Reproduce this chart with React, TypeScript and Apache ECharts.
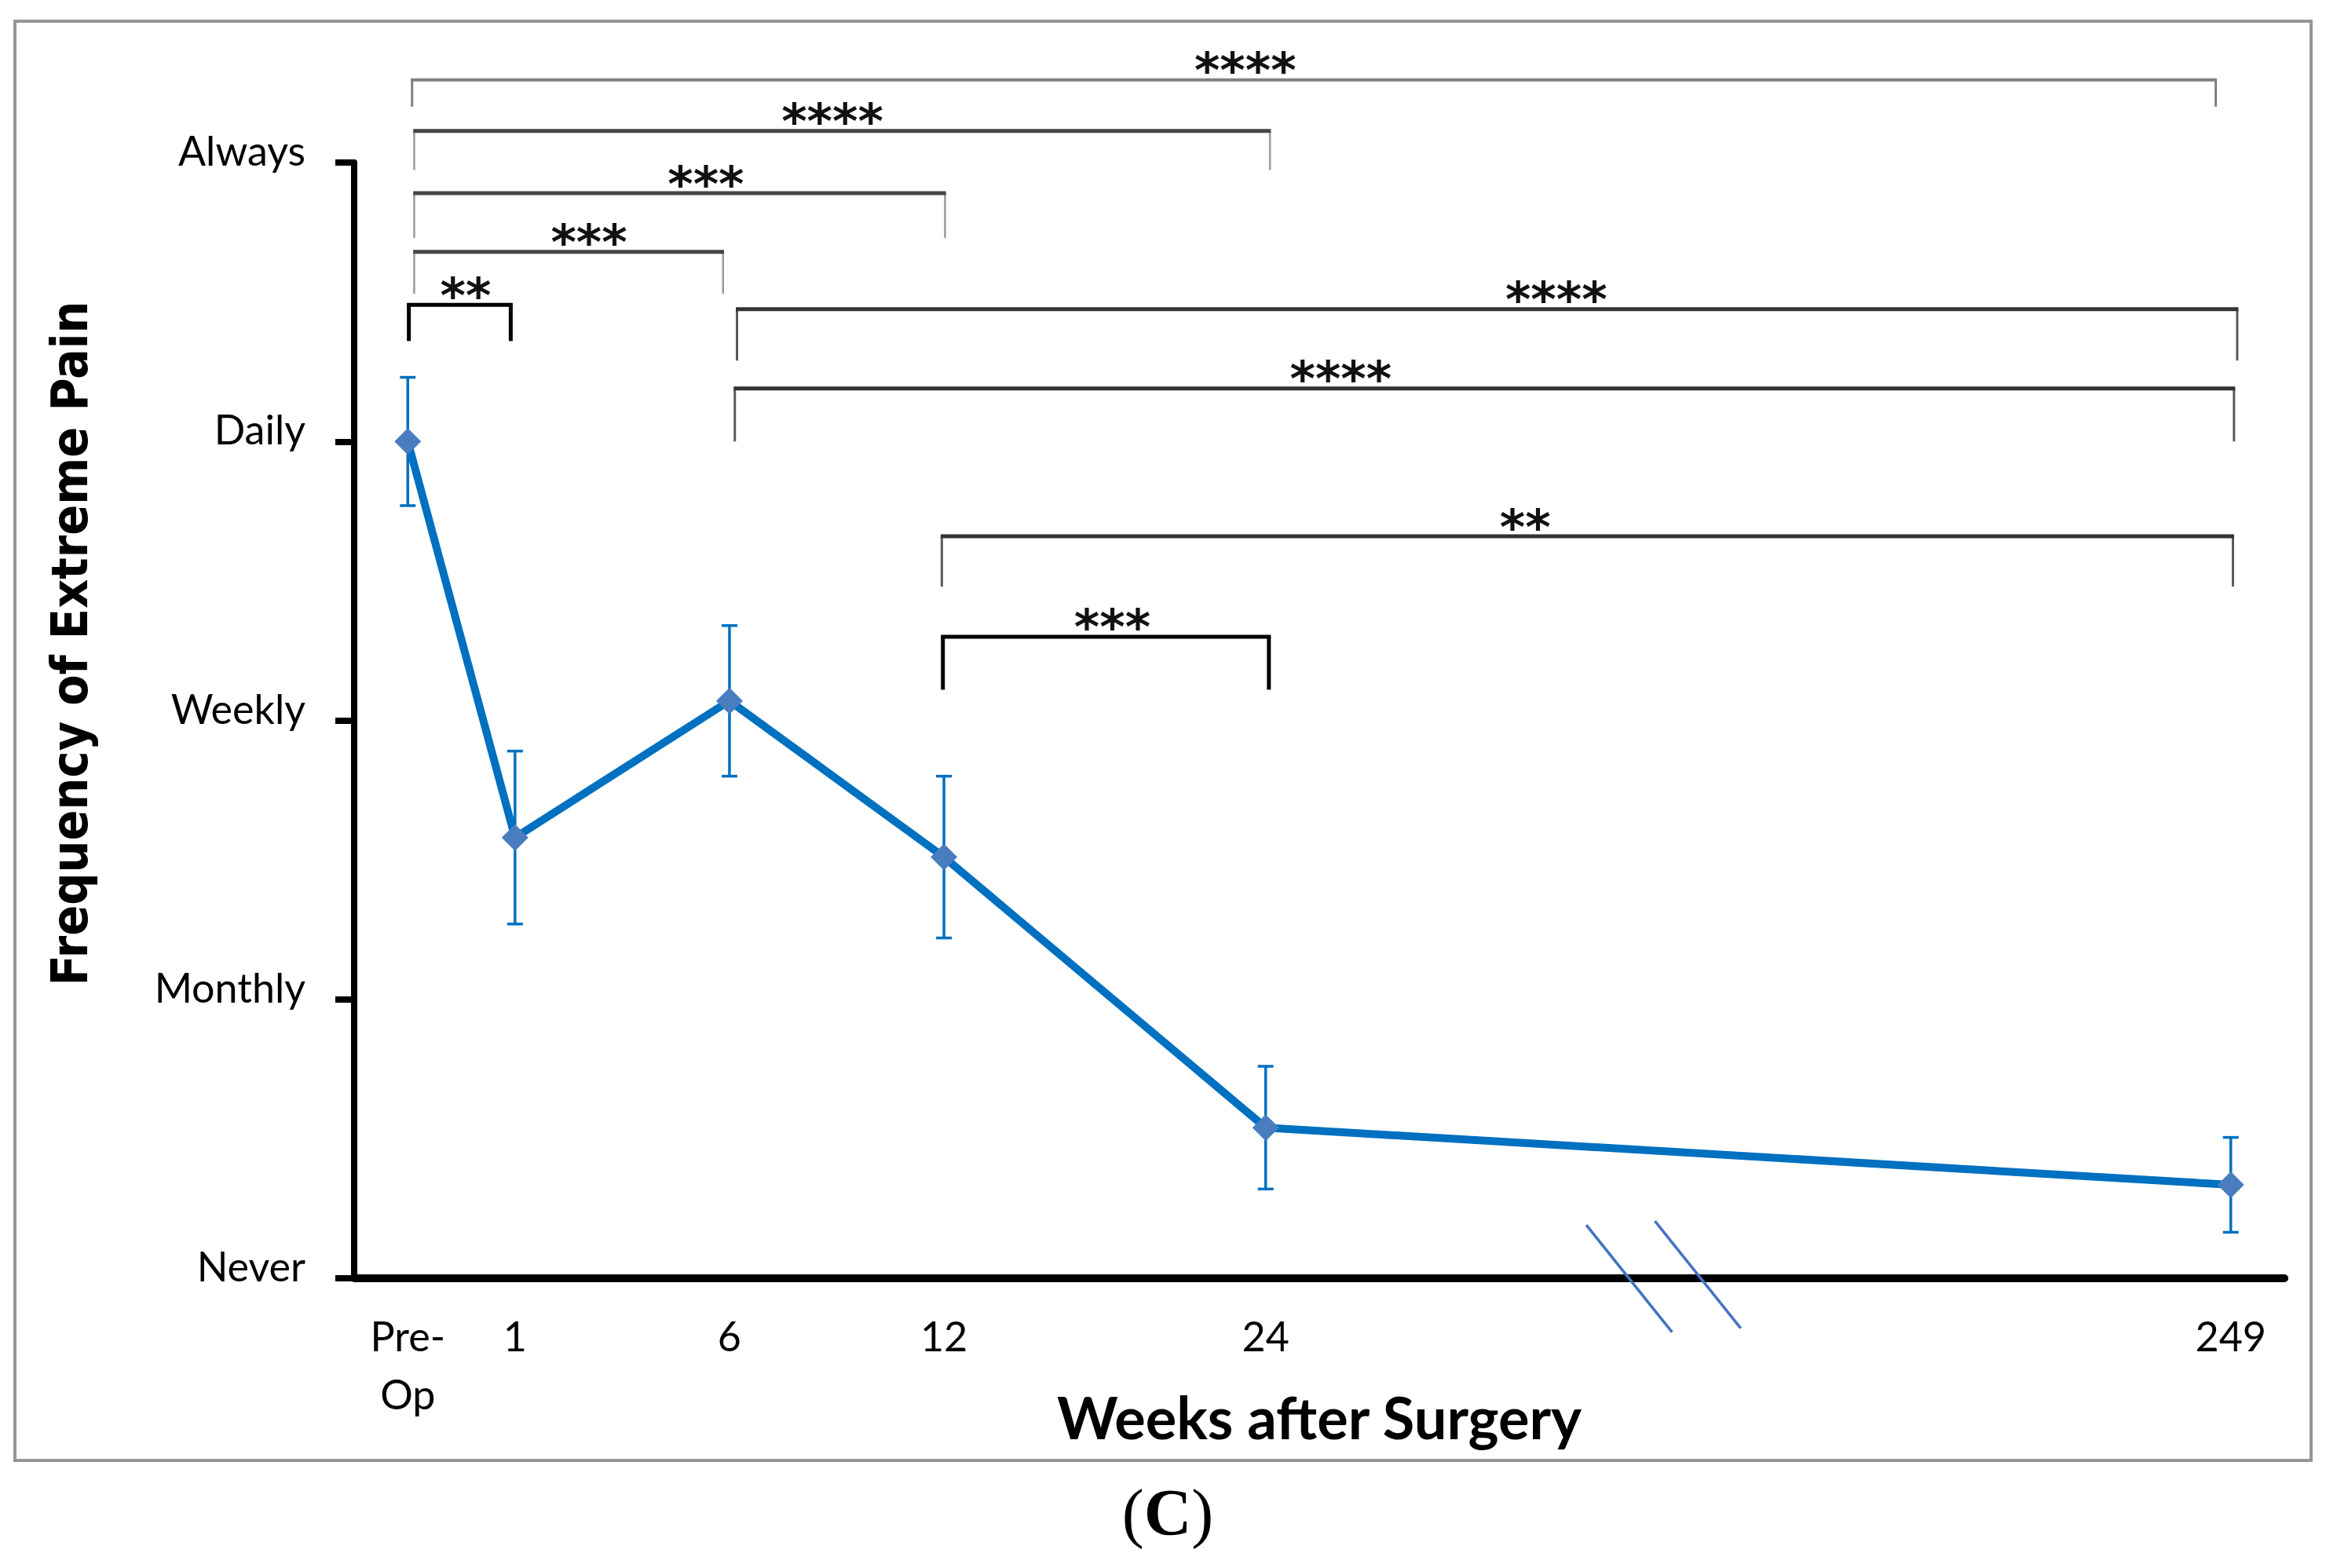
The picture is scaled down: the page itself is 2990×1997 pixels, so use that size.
import React, { useEffect, useRef } from "react";
import * as echarts from "echarts";

// ---- data ----
const categories = ["Pre-\nOp", "1", "6", "12", "24", "249"];
const xPositions = [0, 1, 3, 5, 8, 17];
const meanFrequency = [3.0, 1.58, 2.07, 1.51, 0.54, 0.335];
const errorSize = [0.23, 0.31, 0.27, 0.29, 0.22, 0.17];
const yTickLabels = ["Never", "Monthly", "Weekly", "Daily", "Always"];

// significance brackets (x in axis positions, y in frequency units)
const sigLabels = ["****", "****", "***", "***", "**", "****", "****", "**", "***"];
const sigFrom = [0.04, 0.06, 0.06, 0.06, 0.01, 3.07, 3.05, 4.98, 4.99];
const sigTo = [16.86, 8.04, 5.01, 2.94, 0.96, 17.06, 17.03, 17.02, 8.03];
const sigLevel = [4.296, 4.113, 3.89, 3.68, 3.49, 3.474, 3.19, 2.66, 2.3];
const sigDropLeft = [4.2, 3.973, 3.73, 3.53, 3.36, 3.29, 3.0, 2.48, 2.11];
const sigDropRight = [4.2, 3.973, 3.73, 3.53, 3.36, 3.29, 3.0, 2.48, 2.11];
const sigLabelX = [7.81, 3.96, 2.78, 1.69, 0.54, 10.71, 8.7, 10.42, 6.57];

// axis break marks [x1, y1, x2, y2]
const breakMarks = [
  [10.99, 0.191, 11.79, -0.193],
  [11.63, 0.205, 12.43, -0.179],
];

const LABEL_FONT = "Lato, 'Open Sans', sans-serif";
const SERIF = "'Liberation Serif', 'Times New Roman', serif";

export default function App() {
  const ref = useRef<HTMLDivElement>(null);
  useEffect(() => {
    if (!ref.current) return;
    const chart = echarts.init(ref.current, null, { renderer: "svg" });

    const seriesData = xPositions.map((x, i) => [x, meanFrequency[i]]);
    const errData = xPositions.map((x, i) => [x, meanFrequency[i], errorSize[i]]);
    const sigData = sigLabels.map((_, i) => [
      sigFrom[i], sigTo[i], sigLevel[i], sigDropLeft[i], sigDropRight[i], sigLabelX[i],
    ]);
    const bracketStyle = (i: number) => {
      if (i === 0) return { h: "#808080", hw: 4, d: "#808080", dw: 3 };
      if (i < 4) return { h: "#454545", hw: 5, d: "#9a9a9a", dw: 2.5 };
      if (i === 4 || i === 8) return { h: "#000000", hw: 5, d: "#000000", dw: 5 };
      return { h: "#333333", hw: 5, d: "#5a5a5a", dw: 3 };
    };

    const option: any = {
      animation: false,
      backgroundColor: "#ffffff",
      grid: { left: 451, right: 81, top: 207, bottom: 369, containLabel: false, outerBoundsMode: "none" },
      xAxis: {
        type: "value",
        min: -0.5,
        max: 17.5,
        splitLine: { show: false },
        axisTick: { show: false },
        axisLine: { show: true, onZero: false, lineStyle: { color: "#000", width: 10 } },
        axisLabel: {
          customValues: xPositions,
          formatter: (v: number) => {
            const i = xPositions.indexOf(v);
            return i >= 0 ? categories[i] : "";
          },
          margin: 36,
          fontFamily: LABEL_FONT,
          fontSize: 52,
          lineHeight: 74,
          color: "#000",
        },
        name: "Weeks after Surgery",
        nameLocation: "middle",
        nameGap: 139,
        nameMoveOverlap: false,
        nameTextStyle: { fontFamily: LABEL_FONT, fontWeight: "bold", fontSize: 74, color: "#000" },
      },
      yAxis: {
        type: "value",
        min: 0,
        max: 4,
        interval: 1,
        splitLine: { show: false },
        axisLine: { show: true, onZero: false, lineStyle: { color: "#000", width: 8 } },
        axisTick: { show: true, inside: false, length: 24, lineStyle: { color: "#000", width: 8 } },
        axisLabel: {
          formatter: (v: number) => yTickLabels[v] ?? "",
          margin: 62,
          fontFamily: LABEL_FONT,
          fontSize: 52,
          color: "#000",
          verticalAlign: "bottom",
          lineHeight: 32,
        },
        name: "Frequency of Extreme Pain",
        nameLocation: "middle",
        nameRotate: 90,
        nameGap: 330,
        nameMoveOverlap: false,
        nameTextStyle: {
          fontFamily: "'DejaVu Sans Condensed', 'DejaVu Sans', sans-serif",
          fontWeight: "bold",
          fontSize: 64,
          color: "#000",
          padding: [0, 0, 0, 196],
        },
      },
      graphic: [
        {
          type: "rect",
          shape: { x: 19, y: 27, width: 2924, height: 1833 },
          style: { fill: "none", stroke: "#969696", lineWidth: 4 },
          silent: true,
        },
        {
          type: "text",
          x: 1487,
          y: 1926,
          style: {
            text: "{p|(}{c|C}{p|)}",
            rich: {
              p: { fontFamily: SERIF, fontSize: 84, fontWeight: "normal", fill: "#000" },
              c: { fontFamily: SERIF, fontSize: 84, fontWeight: "bold", fill: "#000" },
            },
            fontFamily: SERIF,
            fontSize: 84,
            fill: "#000",
            align: "center",
            verticalAlign: "middle",
          },
          silent: true,
        },
      ],
      series: [
        {
          type: "custom",
          name: "brackets",
          clip: false,
          silent: true,
          z: 3,
          data: sigData,
          encode: { x: [0, 1, 5], y: [2, 3, 4] },
          renderItem: (params: any, api: any) => {
            const x1 = api.value(0), x2 = api.value(1), yl = api.value(2);
            const dl = api.value(3), dr = api.value(4), lx = api.value(5);
            const pA = api.coord([x1, dl]);
            const pB = api.coord([x1, yl]);
            const pC = api.coord([x2, yl]);
            const pD = api.coord([x2, dr]);
            const pL = api.coord([lx, yl]);
            const i = params.dataIndex;
            const s = bracketStyle(i);
            return {
              type: "group",
              children: [
                {
                  type: "line",
                  shape: { x1: pA[0], y1: pA[1], x2: pB[0], y2: pB[1] },
                  style: { stroke: s.d, lineWidth: s.dw },
                },
                {
                  type: "line",
                  shape: { x1: pD[0], y1: pD[1], x2: pC[0], y2: pC[1] },
                  style: { stroke: s.d, lineWidth: s.dw },
                },
                {
                  type: "line",
                  shape: { x1: pB[0] - s.dw / 2, y1: pB[1], x2: pC[0] + s.dw / 2, y2: pC[1] },
                  style: { stroke: s.h, lineWidth: s.hw },
                },
                {
                  type: "text",
                  style: {
                    text: sigLabels[i],
                    x: pL[0],
                    y: pL[1] - 12,
                    align: "center",
                    verticalAlign: "middle",
                    fontFamily: "'DejaVu Sans', sans-serif",
                    fontWeight: "bold",
                    fontSize: 62,
                    fill: "#111",
                  },
                },
              ],
            };
          },
        },
        {
          type: "custom",
          name: "breaks",
          clip: false,
          silent: true,
          z: 4,
          data: breakMarks,
          encode: { x: [0, 2], y: [1, 3] },
          renderItem: (params: any, api: any) => {
            const a = api.coord([api.value(0), api.value(1)]);
            const b = api.coord([api.value(2), api.value(3)]);
            return {
              type: "line",
              shape: { x1: a[0], y1: a[1], x2: b[0], y2: b[1] },
              style: { stroke: "#4472C4", lineWidth: 3.5 },
            };
          },
        },
        {
          type: "custom",
          name: "error",
          clip: false,
          silent: true,
          z: 5,
          data: errData,
          encode: { x: 0, y: 1 },
          renderItem: (params: any, api: any) => {
            const x = api.value(0), y = api.value(1), e = api.value(2);
            const t = api.coord([x, y + e]);
            const b = api.coord([x, y - e]);
            const hw = 10;
            const st = { stroke: "#0070C0", lineWidth: 3.5 };
            return {
              type: "group",
              children: [
                { type: "line", shape: { x1: t[0], y1: t[1], x2: b[0], y2: b[1] }, style: st },
                { type: "line", shape: { x1: t[0] - hw, y1: t[1], x2: t[0] + hw, y2: t[1] }, style: st },
                { type: "line", shape: { x1: b[0] - hw, y1: b[1], x2: b[0] + hw, y2: b[1] }, style: st },
              ],
            };
          },
        },
        {
          type: "line",
          name: "Frequency",
          data: seriesData,
          z: 6,
          symbol: "diamond",
          symbolSize: [34, 34],
          lineStyle: { color: "#0070C0", width: 10 },
          itemStyle: { color: "#4A7DBF" },
        },
      ],
    };
    chart.setOption(option);
    return () => chart.dispose();
  }, []);

  return (
    <div
      ref={ref}
      style={{ position: "fixed", left: 0, top: 0, width: 2990, height: 1997, background: "#fff" }}
    />
  );
}
